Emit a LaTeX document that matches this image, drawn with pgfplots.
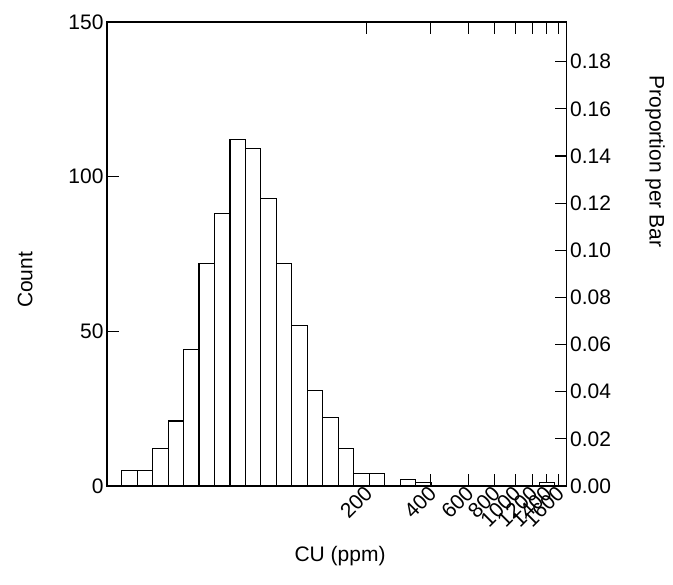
\documentclass[border=0pt]{standalone}
\usepackage{fontspec}
\setmainfont{Liberation Sans}
\usepackage{pgfplots}
\pgfplotsset{compat=1.18}
\newcommand{\bigf}{\fontsize{21}{25}\selectfont}
\begin{document}
\begin{tikzpicture}
\path[use as bounding box] (-107pt,-99pt) rectangle (566pt,486pt);
% x is log10(CU ppm); bins of equal width in log scale
\begin{axis}[
  at={(0pt,0pt)}, anchor=south west,
  scale only axis, width=459.7pt, height=464pt,
  xmin=1.0789, xmax=3.2422, ymin=0, ymax=150,
  axis line style={line width=1.3pt},
  tick style={line width=1.1pt, black},
  tick align=inside, major tick length=12pt,
  xtick={2.30103,2.60206,2.77815,2.90309,3,3.07918,3.14613,3.20412},
  xticklabels={200,400,600,800,1000,1200,1400,1600},
  xtick pos=both,
  xticklabel style={rotate=45, anchor=east, font=\bigf, yshift=-4pt, xshift=2pt},
  ytick={0,50,100,150}, ytick pos=left,
  yticklabel style={font=\bigf},
  /pgf/number format/assume math mode=true,
  xlabel={CU (ppm)}, ylabel={Count},
  xlabel style={font=\bigf, at={(axis description cs:0.507,-0.151)}, anchor=center},
  ylabel style={font=\bigf, at={(axis description cs:-0.178,0.444)}, anchor=center, rotate=0},
]
\addplot[ybar interval, draw=black, fill=white, line width=1.1pt] coordinates {
(1.1481,5) (1.2209,5) (1.2937,12) (1.3664,21) (1.4392,44) (1.5120,72)
(1.5848,88) (1.6576,112) (1.7303,109) (1.8031,93) (1.8759,72) (1.9487,52)
(2.0215,31) (2.0942,22) (2.1670,12) (2.2398,4) (2.3126,4) (2.3854,0)
(2.4581,2) (2.5309,1) (2.6037,0)
};
\addplot[ybar interval, draw=black, fill=white, line width=1.1pt] coordinates {
(3.1132,1) (3.1860,1)
};
\end{axis}
\begin{axis}[
  at={(0pt,0pt)}, anchor=south west,
  scale only axis, width=459.7pt, height=464pt,
  xmin=1.0789, xmax=3.2422, ymin=0, ymax=0.19685,
  hide x axis, axis y line*=right,
  axis line style={line width=1.3pt},
  tick style={line width=1.1pt, black},
  tick align=inside, major tick length=12pt,
  ytick={0,0.02,0.04,0.06,0.08,0.10,0.12,0.14,0.16,0.18},
  yticklabel style={font=\bigf, /pgf/number format/fixed, /pgf/number format/precision=2, /pgf/number format/fixed zerofill},
  /pgf/number format/assume math mode=true,
  ylabel={Proportion per Bar},
  ylabel style={font=\bigf, at={(axis description cs:1.192,0.699)}, anchor=center, rotate=180},
]
\addplot[draw=none] coordinates {(2,0)};
\end{axis}
\end{tikzpicture}
\end{document}
